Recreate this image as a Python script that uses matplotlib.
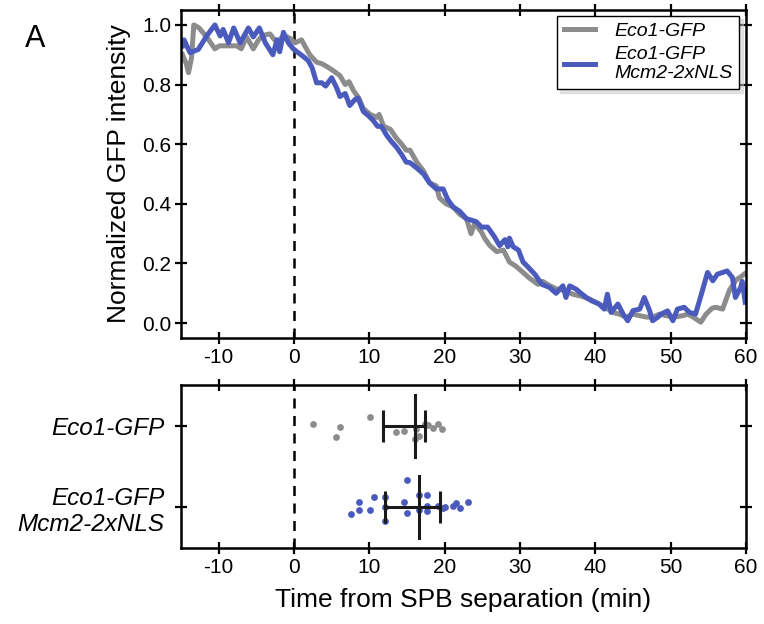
import matplotlib
matplotlib.use('Agg')
import matplotlib.pyplot as plt
import numpy as np

plt.rcParams['font.family'] = ['Liberation Sans', 'DejaVu Sans']
plt.rcParams['axes.unicode_minus'] = False

# time course, Eco1-GFP (gray)
t_gray = [-14.8, -14.3, -14.0, -13.6, -13.3, -12.6, -11.6, -10.5, -9.9, -9.4, -8.5, -7.6, -7.0,
          -6.3, -5.4, -4.7, -4.1, -3.2, -2.25, -1.4, -0.5, 0.13, 1.0, 1.65, 2.1, 3.0, 3.7, 4.4,
          5.3, 6.1, 6.8, 7.3, 7.9, 8.6, 9.2, 10.1, 11.0, 11.3, 11.9, 12.8, 13.6, 14.3, 14.9,
          15.4, 16.3, 17.2, 18.0, 18.9, 19.3, 20.2, 21.1, 22.0, 22.9, 23.5, 24.0, 24.9, 25.3,
          26.0, 26.9, 27.8, 28.6, 29.5, 30.4, 31.3, 32.4, 33.0, 34.0, 34.8, 35.8, 37.0, 38.2,
          39.2, 40.5, 41.5, 42.3, 43.2, 44.1, 45.0, 45.9, 46.8, 47.6, 48.5, 49.4, 50.5, 51.6,
          52.3, 53.0, 54.0, 54.7, 55.5, 56.0, 56.9, 57.8, 58.7, 59.3, 59.8]
v_gray = [0.90, 0.87, 0.84, 0.89, 1.00, 0.99, 0.96, 0.92, 0.93, 0.93, 0.93, 0.93, 0.92,
          0.96, 0.92, 0.95, 0.965, 0.97, 0.94, 0.965, 0.955, 0.94, 0.95, 0.92, 0.90, 0.875, 0.87, 0.86,
          0.845, 0.83, 0.80, 0.81, 0.78, 0.755, 0.72, 0.70, 0.69, 0.70, 0.66, 0.65, 0.62, 0.60, 0.58,
          0.58, 0.54, 0.51, 0.47, 0.46, 0.42, 0.40, 0.39, 0.365, 0.35, 0.30, 0.335, 0.305, 0.285,
          0.26, 0.24, 0.245, 0.205, 0.19, 0.17, 0.15, 0.13, 0.14, 0.125, 0.115, 0.11, 0.097, 0.09,
          0.081, 0.064, 0.05, 0.036, 0.03, 0.02, 0.03, 0.025, 0.02, 0.02, 0.03, 0.025, 0.02, 0.025,
          0.03, 0.02, 0.003, 0.03, 0.05, 0.053, 0.047, 0.11, 0.145, 0.155, 0.165]

# time course, Eco1-GFP Mcm2-2xNLS (blue)
t_blue = [-14.8, -14.6, -13.8, -12.7, -11.6, -10.5, -9.8, -9.4, -8.7, -8.0, -7.15, -6.05, -5.4,
          -4.6, -3.8, -2.8, -2.25, -1.9, -1.4, -0.75, -0.1, 0.4, 1.2, 1.9, 2.4, 3.0, 3.7, 4.2,
          5.0, 5.65, 6.1, 6.8, 7.4, 8.1, 8.5, 9.2, 9.9, 10.5, 11.1, 11.6, 12.3, 12.9, 13.6, 14.3,
          14.9, 15.4, 16.3, 17.2, 18.0, 18.9, 19.8, 20.4, 21.1, 22.0, 22.9, 23.6, 24.2, 24.9, 25.7,
          26.6, 27.3, 28.0, 28.4, 28.6, 29.1, 29.8, 30.4, 31.0, 32.0, 32.9, 33.9, 34.8, 35.7, 36.1,
          36.6, 37.5, 38.1, 38.8, 39.5, 40.5, 41.2, 41.6, 42.1, 43.0, 43.7, 44.3, 45.0, 45.9, 46.5,
          47.2, 47.6, 48.3, 48.7, 49.6, 50.3, 50.9, 51.8, 52.5, 53.3, 54.0, 54.9, 55.6, 56.2, 57.5,
          58.2, 58.6, 59.3, 59.5, 59.9]
v_blue = [0.93, 0.95, 0.907, 0.918, 0.963, 1.0, 0.963, 0.985, 0.94, 0.99, 0.94, 0.99, 0.96,
          0.99, 0.94, 0.90, 0.95, 0.91, 0.975, 0.94, 0.92, 0.91, 0.895, 0.88, 0.857, 0.806, 0.806, 0.795,
          0.823, 0.79, 0.76, 0.77, 0.73, 0.75, 0.755, 0.71, 0.695, 0.68, 0.66, 0.66, 0.63, 0.61, 0.59, 0.565,
          0.54, 0.538, 0.52, 0.50, 0.47, 0.45, 0.45, 0.415, 0.39, 0.375, 0.35, 0.345, 0.34, 0.322, 0.322,
          0.29, 0.26, 0.28, 0.256, 0.285, 0.256, 0.245, 0.205, 0.19, 0.163, 0.13, 0.12, 0.10, 0.125, 0.086,
          0.125, 0.113, 0.10, 0.086, 0.075, 0.064, 0.047, 0.097, 0.036, 0.064, 0.03, 0.008, 0.042, 0.047, 0.086,
          0.042, 0.008, 0.02, 0.03, 0.041, 0.008, 0.047, 0.053, 0.036, 0.03, 0.09, 0.17, 0.142, 0.164, 0.175,
          0.153, 0.086, 0.12, 0.14, 0.07]

# individual cells: time of loss (min) and jitter offset
pts_gray_x = [2.56, 6.1, 5.56, 10.07, 13.6, 14.6, 16.2, 16.0, 16.6, 17.35, 17.8, 18.5, 19.1, 19.6]
pts_gray_y = [-0.02, 0.02, 0.14, -0.11, 0.08, 0.06, 0.04, 0.16, 0.12, -0.02, -0.01, 0.03, -0.02, 0.04]
pts_blue_x = [7.55, 8.6, 8.6, 10.07, 10.6, 12.05, 12.05, 12.05, 14.6, 15.0, 15.06, 16.6, 16.6,
              17.6, 17.6, 17.6, 19.1, 19.8, 20.1, 21.1, 21.5, 22.1, 23.1]
pts_blue_y = [0.085, -0.07, 0.03, 0.03, -0.13, -0.12, 0.0, 0.17, -0.07, -0.33, 0.07, -0.15, 0.03,
              -0.15, -0.02, 0.05, -0.02, 0.01, 0.0, -0.02, -0.05, 0.01, -0.07]

# summary bars: centre, lower, upper
summ_center = [16.1, 16.6]
summ_low = [11.8, 12.05]
summ_high = [17.35, 19.4]

categories = ['Eco1-GFP', 'Eco1-GFP\nMcm2-2xNLS']
xticks = [-10, 0, 10, 20, 30, 40, 50, 60]

gray = '#8c8c8c'
blue = '#4a5abd'

fig = plt.figure(figsize=(7.64, 6.24), dpi=100)
ax1 = fig.add_axes([0.2369, 0.4583, 0.7395, 0.5256])
ax2 = fig.add_axes([0.2369, 0.1218, 0.7395, 0.2612])

for ax in (ax1, ax2):
    for s in ax.spines.values():
        s.set_linewidth(1.8)
    ax.tick_params(direction='inout', length=8, width=1.6, top=True, right=True,
                   labelsize=15, pad=3)
    ax.set_xlim(-15, 60)
    ax.set_xticks(xticks)
    ax.axvline(0, color='k', lw=1.8, ls=(0, (4, 3)), zorder=1)

ax1.plot(t_gray, v_gray, color=gray, lw=3.6, label='Eco1-GFP')
ax1.plot(t_blue, v_blue, color=blue, lw=3.6, label='Eco1-GFP\nMcm2-2xNLS')
ax1.set_ylim(-0.05, 1.05)
ax1.set_yticks([0.0, 0.2, 0.4, 0.6, 0.8, 1.0])
ax1.set_yticklabels(['0.0', '0.2', '0.4', '0.6', '0.8', '1.0'])
ax1.set_ylabel('Normalized GFP intensity', fontsize=19, labelpad=8)
leg = ax1.legend(loc='upper right', frameon=True, fancybox=False,
                 shadow={'color': '#c8c8c8', 'ox': 2.5, 'oy': -2.5},
                 handlelength=1.6, handletextpad=1.0, borderpad=0.35, borderaxespad=0.2,
                 labelspacing=0.3, prop={'style': 'italic', 'size': 14},
                 bbox_to_anchor=(0.995, 0.995))
leg.get_frame().set_edgecolor('black')
leg.get_frame().set_linewidth(1.0)

ax2.scatter(pts_gray_x, np.array(pts_gray_y) + 0, s=24, color=gray, zorder=2, linewidths=0)
ax2.scatter(pts_blue_x, np.array(pts_blue_y) + 1, s=24, color=blue, zorder=2, linewidths=0)
for i in range(2):
    c = summ_center[i]
    ax2.errorbar(c, i, xerr=[[c - summ_low[i]], [summ_high[i] - c]], fmt='none',
                 ecolor='#1a1a1a', elinewidth=2.2, capsize=11.5, capthick=2.2, zorder=3)
    ax2.plot([c, c], [i - 0.38, i + 0.38], color='#1a1a1a', lw=2.2, zorder=3)
ax2.set_ylim(1.5, -0.5)
ax2.set_yticks([0, 1])
ax2.set_yticklabels(categories, fontsize=17.5, style='italic')
ax2.tick_params(axis='y', pad=8)
ax2.set_xlabel('Time from SPB separation (min)', fontsize=19, labelpad=8)

fig.text(0.033, 0.925, 'A', fontsize=22)

fig.savefig('out.png', dpi=100)
